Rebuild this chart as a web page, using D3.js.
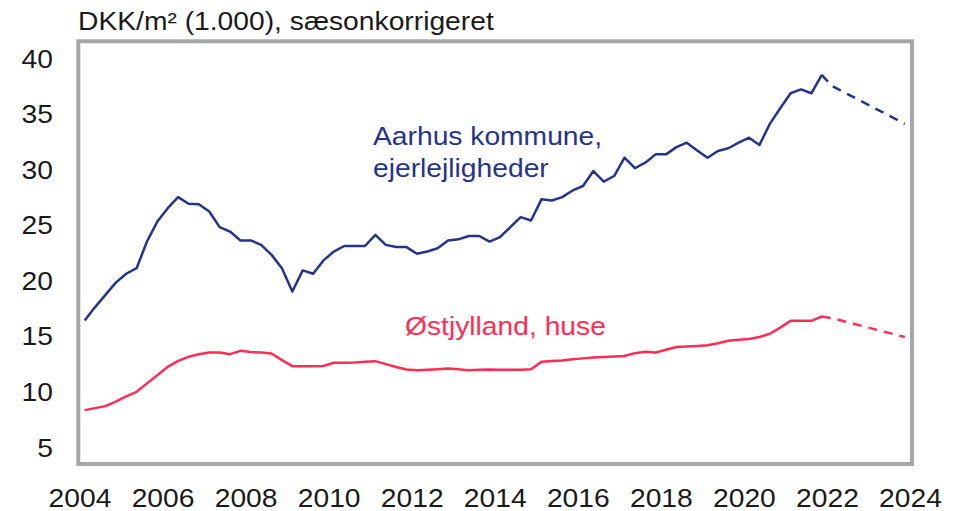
<!DOCTYPE html>
<html><head><meta charset="utf-8">
<script src="https://cdn.jsdelivr.net/npm/d3@7"></script>
<style>body{margin:0;background:#fff}svg{display:block}</style>
</head><body>
<svg id="c" width="953" height="511"></svg>
<script>
// Quarterly data, 2004K1 .. 2021K4
const startYear = 2004;
const aarhus = [16.4,17.6,18.7,19.8,20.6,21.1,23.5,25.3,26.5,27.5,26.9,26.85,26.2,24.8,24.4,23.6,
  23.6,23.2,22.3,21.1,19.0,20.9,20.6,21.8,22.6,23.1,23.1,23.1,24.1,23.2,23.0,23.0,
  22.4,22.6,22.9,23.6,23.7,24.0,24.0,23.5,23.9,24.8,25.7,25.4,27.3,27.2,27.5,28.1,
  28.5,29.85,28.9,29.4,31.05,30.1,30.6,31.35,31.35,32.0,32.4,31.7,31.05,31.65,31.9,32.4,
  32.85,32.2,34.1,35.5,36.85,37.2,36.85,38.5];
const ostjylland = [8.32,8.5,8.68,9.08,9.55,9.97,10.73,11.47,12.22,12.75,13.12,13.35,13.5,13.51,13.36,13.66,
  13.55,13.51,13.42,12.82,12.28,12.28,12.28,12.3,12.58,12.58,12.6,12.68,12.73,12.46,12.2,11.98,
  11.92,11.95,12.0,12.07,12.0,11.92,11.95,11.98,11.95,11.95,11.95,12.0,12.67,12.75,12.78,12.9,
  12.98,13.05,13.1,13.15,13.2,13.45,13.57,13.51,13.75,14.0,14.05,14.1,14.17,14.35,14.56,14.65,
  14.72,14.9,15.2,15.75,16.36,16.36,16.36,16.75];
// Forecast (dashed)
const forecastQuarters = ["2021K4","2022K1","2023K4"];
const aarhusForecast = [38.5, 37.5, 34.1];
const ostjyllandForecast = [16.75, 16.6, 14.9];
const xTicks = [2004,2006,2008,2010,2012,2014,2016,2018,2020,2022,2024];
const yTicks = [5,10,15,20,25,30,35,40];
const title = "DKK/m\u00B2 (1.000), s\u00E6sonkorrigeret";
const labelAarhus = ["Aarhus kommune,", "ejerlejligheder"];
const labelOst = "\u00D8stjylland, huse";

const quarters = aarhus.map((_, i) => (startYear + Math.floor(i/4)) + "K" + (i%4+1));
const qToT = q => { const [y, k] = q.split("K"); return +y + (+k - 1) * 0.25 + 0.125; };

const svg = d3.select("#c");
const FONT = "'Liberation Sans', Arial, sans-serif";
const SX = 1.13;
const x = d3.scaleLinear().domain([2004, 2024]).range([79.5, 910]);
const y = d3.scaleLinear().domain([5, 40]).range([447, 58.3]);

const BLUE = "#26338c", RED = "#ff2d55", GREY = "#a6a6a6", TXT = "#1a1a1a";

// frame
svg.append("rect").attr("x", 78.3).attr("y", 41.3).attr("width", 912 - 78.3).attr("height", 464 - 41.3)
  .attr("fill", "none").attr("stroke", GREY).attr("stroke-width", 4);

// title
svg.append("text").attr("transform", `translate(78,29.5) scale(${SX},1)`)
  .attr("font-family", FONT).attr("font-size", 25).attr("fill", TXT).text(title);

// axes
const gy = svg.append("g").attr("transform", "translate(53,0)")
  .call(d3.axisLeft(y).tickValues(yTicks).tickSize(0).tickPadding(0));
gy.select(".domain").remove();
gy.selectAll("text").attr("x", 0).attr("dy", "0.36em").attr("transform", `scale(${SX},1)`)
  .attr("font-family", FONT).attr("font-size", 25).attr("fill", TXT);

const gx = svg.append("g").attr("transform", "translate(0,506.5)")
  .call(d3.axisBottom(x).tickValues(xTicks).tickFormat(d3.format("d")).tickSize(0).tickPadding(0));
gx.select(".domain").remove();
gx.selectAll("text").attr("y", 0).attr("dy", 0).attr("transform", `scale(${SX},1)`)
  .attr("font-family", FONT).attr("font-size", 25).attr("fill", TXT);

// lines
const line = d3.line().x(d => x(d.t)).y(d => y(d.v));
function series(vals, qs) { return vals.map((v, i) => ({ t: qToT(qs[i]), v })); }

svg.append("path").datum(series(ostjylland, quarters)).attr("d", line)
  .attr("fill", "none").attr("stroke", RED).attr("stroke-width", 2.5).attr("stroke-linejoin", "round");
svg.append("path").datum(series(ostjyllandForecast, forecastQuarters)).attr("d", line)
  .attr("fill", "none").attr("stroke", RED).attr("stroke-width", 2.5).attr("stroke-dasharray", "9,7");
svg.append("path").datum(series(aarhus, quarters)).attr("d", line)
  .attr("fill", "none").attr("stroke", BLUE).attr("stroke-width", 2.5).attr("stroke-linejoin", "round");
svg.append("path").datum(series(aarhusForecast, forecastQuarters)).attr("d", line)
  .attr("fill", "none").attr("stroke", BLUE).attr("stroke-width", 2.5).attr("stroke-dasharray", "9,7");

// series labels
labelAarhus.forEach((s, i) => {
  svg.append("text").attr("transform", `translate(373,${145 + i * 31.7}) scale(${SX},1)`)
    .attr("font-family", FONT).attr("font-size", 25).attr("fill", BLUE).text(s);
});
svg.append("text").attr("transform", `translate(405,335) scale(${SX},1)`)
  .attr("font-family", FONT).attr("font-size", 25).attr("fill", RED).text(labelOst);
</script>
</body></html>
